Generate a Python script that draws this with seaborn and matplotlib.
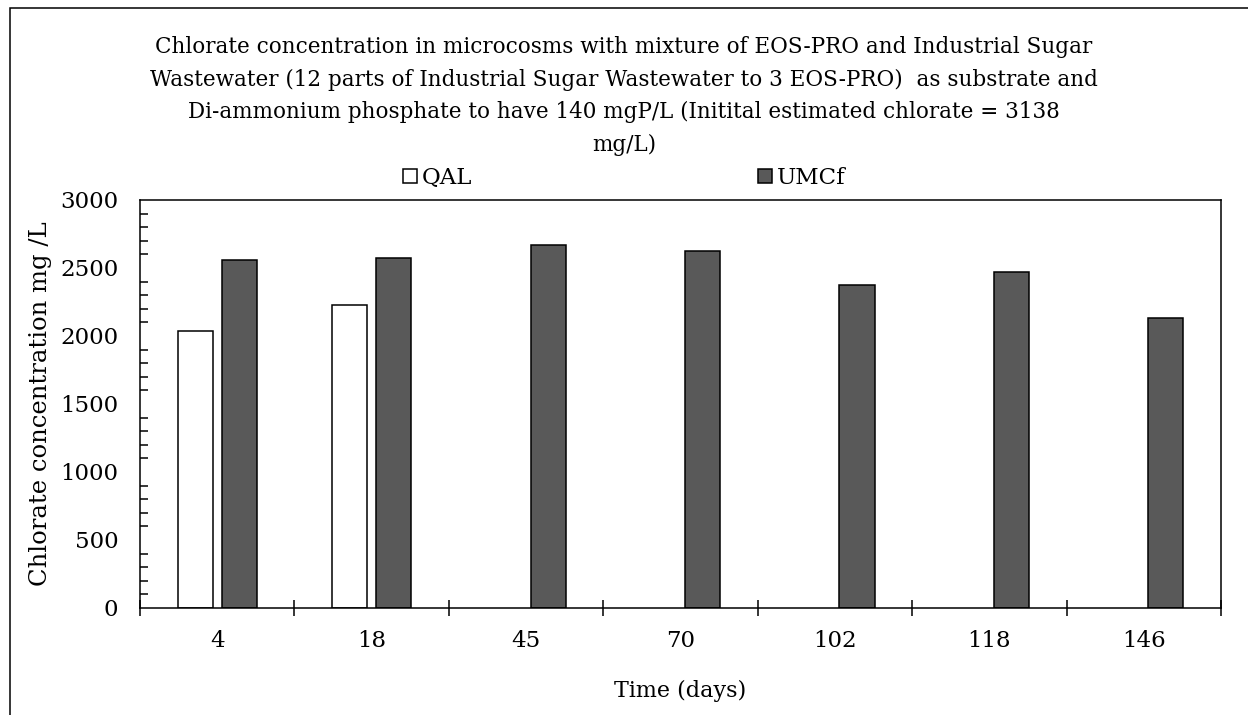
import numpy as np
import pandas as pd
import seaborn as sns
import matplotlib.pyplot as plt
from matplotlib.patches import Rectangle
from matplotlib.ticker import MultipleLocator, FixedLocator

# Dados
dias = ['4', '18', '45', '70', '102', '118', '146']
qal = [2040, 2228, None, None, None, None, None]
umcf = [2560, 2572, 2670, 2628, 2378, 2470, 2132]

titulo = ('Chlorate concentration in microcosms with mixture of EOS-PRO and Industrial Sugar\n'
          'Wastewater (12 parts of Industrial Sugar Wastewater to 3 EOS-PRO)  as substrate and\n'
          'Di-ammonium phosphate to have 140 mgP/L (Initital estimated chlorate = 3138\n'
          'mg/L)')

df = pd.DataFrame({
    'Time': dias * 2,
    'Chlorate': qal + umcf,
    'Serie': ['QAL'] * len(dias) + ['UMCf'] * len(dias),
}).dropna()

sns.set_style('white')
plt.rcParams['font.family'] = ['DejaVu Serif']
plt.rcParams['text.color'] = 'black'
plt.rcParams['axes.labelcolor'] = 'black'
plt.rcParams['xtick.color'] = 'black'
plt.rcParams['ytick.color'] = 'black'

fig = plt.figure(figsize=(12.48, 7.15), dpi=100)
ax = fig.add_axes([0.1122, 0.1497, 0.8662, 0.5706])

sns.barplot(data=df, x='Time', y='Chlorate', hue='Serie', order=dias,
            hue_order=['QAL', 'UMCf'], palette={'QAL': 'white', 'UMCf': '#595959'},
            width=0.57, gap=0.2, edgecolor='black', linewidth=1.1, ax=ax)

ax.set_xlim(-0.5, len(dias) - 0.5)
ax.set_ylim(0, 3000)
ax.yaxis.set_major_locator(MultipleLocator(500))
ax.yaxis.set_minor_locator(MultipleLocator(100))
ax.xaxis.set_minor_locator(FixedLocator(np.arange(-0.5, len(dias), 1.0)))

ax.tick_params(axis='y', which='major', direction='inout', length=11, width=1.1,
               labelsize=16.5, pad=10)
ax.tick_params(axis='y', which='minor', direction='in', length=6, width=1.1, left=True)
ax.tick_params(axis='x', which='major', length=0, labelsize=16.5, pad=16)
ax.tick_params(axis='x', which='minor', direction='inout', length=12, width=1.1, bottom=True)

for s in ax.spines.values():
    s.set_visible(True)
    s.set_color('black')
    s.set_linewidth(1.1)

ax.set_xlabel('Time (days)', fontsize=16, labelpad=20)
ax.set_ylabel('Chlorate concentration mg /L', fontsize=17.5, labelpad=6)

handles, labels = ax.get_legend_handles_labels()
ax.legend(handles, labels, ncol=2, loc='center', bbox_to_anchor=(0.5, 1 - 178 / 715),
          bbox_transform=fig.transFigure, frameon=False, fontsize=16.5,
          handlelength=0.6, handleheight=0.6, handletextpad=0.2, columnspacing=12.5)

fig.text(0.5, 1 - 36 / 715, titulo, ha='center', va='top', fontsize=15.5, linespacing=1.62)

# borda externa do gráfico (estilo Excel, recortada)
fig.add_artist(Rectangle((10 / 1248, -0.1), 1.2, 1 - 8 / 715 + 0.1, transform=fig.transFigure,
                         fill=False, edgecolor='black', linewidth=1.1))

fig.savefig('out.png', dpi=100)
